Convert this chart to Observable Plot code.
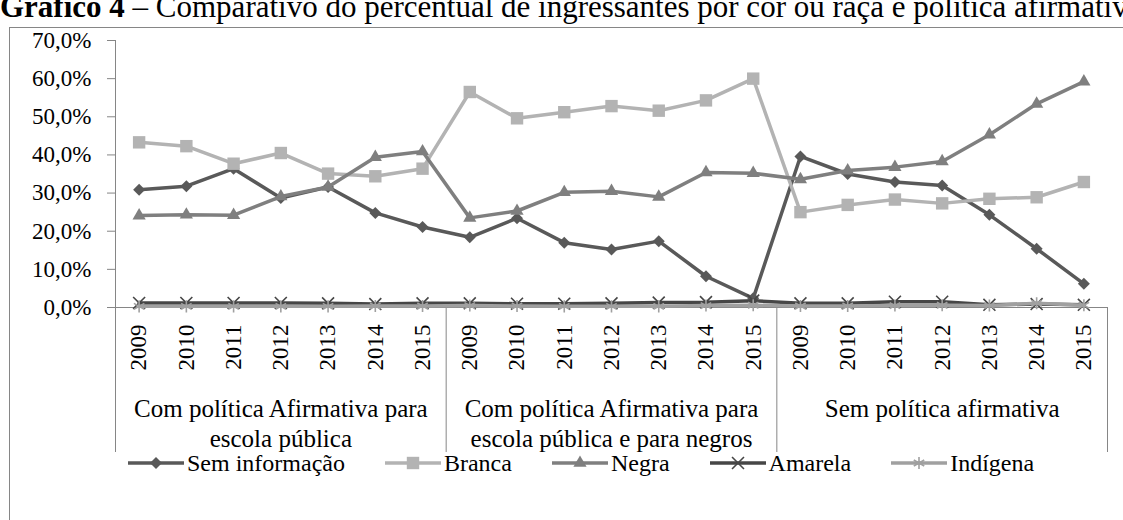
<!DOCTYPE html>
<html><head><meta charset="utf-8">
<script src="https://cdn.jsdelivr.net/npm/d3@7"></script>
<script src="https://cdn.jsdelivr.net/npm/@observablehq/plot@0.6"></script>
<style>
html,body{margin:0;padding:0;background:#fff;width:1123px;height:520px;overflow:hidden;position:relative;}
*, svg, svg text{font-family:"Liberation Serif","Times New Roman",serif !important;}
#title{position:absolute;left:0;top:-9px;font-size:31px;line-height:31px;white-space:nowrap;color:#000;}
#box{position:absolute;left:9px;top:27px;width:1200px;height:600px;border:1px solid #868686;box-sizing:border-box;pointer-events:none;}
#chart{position:absolute;left:0;top:0;}
#legend{position:absolute;left:128px;top:449px;height:28px;display:flex;gap:40px;align-items:center;font-size:24px;line-height:28px;white-space:nowrap;color:#000;}
.item{display:flex;align-items:center;gap:3px}
.item svg{display:block}
</style></head><body>
<div id="title"><b>Gráfico 4</b> – Comparativo do percentual de ingressantes por cor ou raça e política afirmativa</div>
<div id="chart"></div>
<div id="legend"></div>
<div id="box"></div>
<script>
const groups = [
  "Com política Afirmativa para\nescola pública",
  "Com política Afirmativa para\nescola pública e para negros",
  "Sem política afirmativa"
];
const years = ["2009", "2010", "2011", "2012", "2013", "2014", "2015"];
const seriesNames = ["Sem informação", "Branca", "Negra", "Amarela", "Indígena"];

const semInformacao = [30.9, 31.8, 36.4, 28.7, 31.6, 24.8, 21.1, 18.4, 23.4, 17.0, 15.2, 17.4, 8.2, 2.4, 39.6, 35.0, 32.9, 32.0, 24.3, 15.4, 6.2];
const branca        = [43.3, 42.3, 37.7, 40.5, 35.1, 34.4, 36.4, 56.5, 49.6, 51.2, 52.8, 51.6, 54.3, 60.0, 25.0, 26.9, 28.3, 27.3, 28.5, 28.9, 32.9];
const negra         = [24.1, 24.3, 24.2, 29.1, 31.6, 39.4, 40.9, 23.5, 25.3, 30.2, 30.5, 29.0, 35.4, 35.2, 33.6, 35.9, 36.8, 38.3, 45.3, 53.4, 59.2];
const amarela       = [1.2, 1.2, 1.2, 1.2, 1.1, 0.9, 1.1, 1.1, 1.0, 1.0, 1.1, 1.3, 1.4, 1.8, 1.1, 1.1, 1.5, 1.5, 0.7, 0.9, 0.7];
const indigena      = [0.3, 0.3, 0.3, 0.3, 0.3, 0.4, 0.4, 0.5, 0.4, 0.3, 0.3, 0.3, 0.5, 0.6, 0.4, 0.4, 0.5, 0.6, 0.5, 1.1, 0.6];
const yTicks = [0, 10, 20, 30, 40, 50, 60, 70];

const seriesValues = [semInformacao, branca, negra, amarela, indigena];
const colors  = ["#595959", "#b3b3b3", "#7f7f7f", "#464646", "#a0a0a0"];
const symbols = ["diamond2", "square", "triangle", "times", "asterisk"];
const radii   = [5.4, 7.0, 4.9, 5.5, 5.7];
const filled  = [true, true, true, false, false];
const axisColor = "#868686";
const font = "Liberation Serif";

const nPer = years.length;
const nCat = groups.length * nPer;
const rows = seriesNames.flatMap((s, k) => seriesValues[k].map((v, i) => ({series: s, k, i, value: v})));
const dividers = d3.range(groups.length + 1).map(g => g * nPer - 0.5);
const groupCenters = d3.range(groups.length).map(g => g * nPer + (nPer - 1) / 2);

const marks = [
  Plot.axisY(yTicks, {tickSize: 8, tickPadding: 16, tickFormat: d => d.toFixed(1).replace(".", ",") + "%", fontSize: 23, fontFamily: font, fontVariant: "normal", stroke: axisColor, fill: "#000", label: null}),
  Plot.ruleX([dividers[0]], {stroke: axisColor}),
  Plot.ruleY([0], {stroke: axisColor}),
  Plot.axisX(dividers, {tickSize: 145, fill: "none", stroke: axisColor, label: null}),
  Plot.axisX(d3.range(nCat), {tickFormat: i => years[i % nPer], tickRotate: -90, tickSize: 0, tickPadding: 17, fontSize: 23, fontFamily: font, fontVariant: "normal", fill: "#000", label: null}),
  Plot.axisX(groupCenters, {tickFormat: v => groups[Math.round((v - (nPer - 1) / 2) / nPer)], tickSize: 0, tickPadding: 88, fontSize: 25, fontFamily: font, lineHeight: 1.2, fill: "#000", label: null})
];
seriesNames.forEach((s, k) => {
  const d = rows.filter(r => r.k === k);
  marks.push(Plot.line(d, {x: "i", y: "value", stroke: colors[k], strokeWidth: 3.5}));
  if (filled[k]) marks.push(Plot.dot(d, {x: "i", y: "value", symbol: symbols[k], r: radii[k], fill: colors[k], stroke: "none"}));
  else marks.push(Plot.dot(d, {x: "i", y: "value", symbol: symbols[k], r: radii[k], stroke: colors[k], strokeWidth: 1.6, fill: "none"}));
});

const chart = Plot.plot({
  width: 1123,
  height: 460,
  marginTop: 40,
  marginBottom: 153,
  marginLeft: 115,
  marginRight: 16,
  x: {type: "linear", domain: [-0.5, nCat - 0.5]},
  y: {domain: [0, 70]},
  style: {fontFamily: font, background: "transparent", color: "#000", overflow: "visible"},
  marks
});
document.getElementById("chart").append(chart);

// legend
const legend = d3.select("#legend");
const symMap = {diamond2: d3.symbolDiamond2, square: d3.symbolSquare, triangle: d3.symbolTriangle, times: d3.symbolTimes, asterisk: d3.symbolAsterisk};
seriesNames.forEach((s, k) => {
  const it = legend.append("div").attr("class", "item");
  const svg = it.append("svg").attr("width", 56).attr("height", 16);
  svg.append("line").attr("x1", 0).attr("x2", 56).attr("y1", 8).attr("y2", 8).attr("stroke", colors[k]).attr("stroke-width", 3.5);
  const p = d3.symbol(symMap[symbols[k]], Math.PI * radii[k] * radii[k])();
  const path = svg.append("path").attr("d", p).attr("transform", "translate(28,8)");
  if (filled[k]) path.attr("fill", colors[k]);
  else path.attr("fill", "none").attr("stroke", colors[k]).attr("stroke-width", 1.6);
  it.append("span").text(s);
});
</script>
</body></html>
